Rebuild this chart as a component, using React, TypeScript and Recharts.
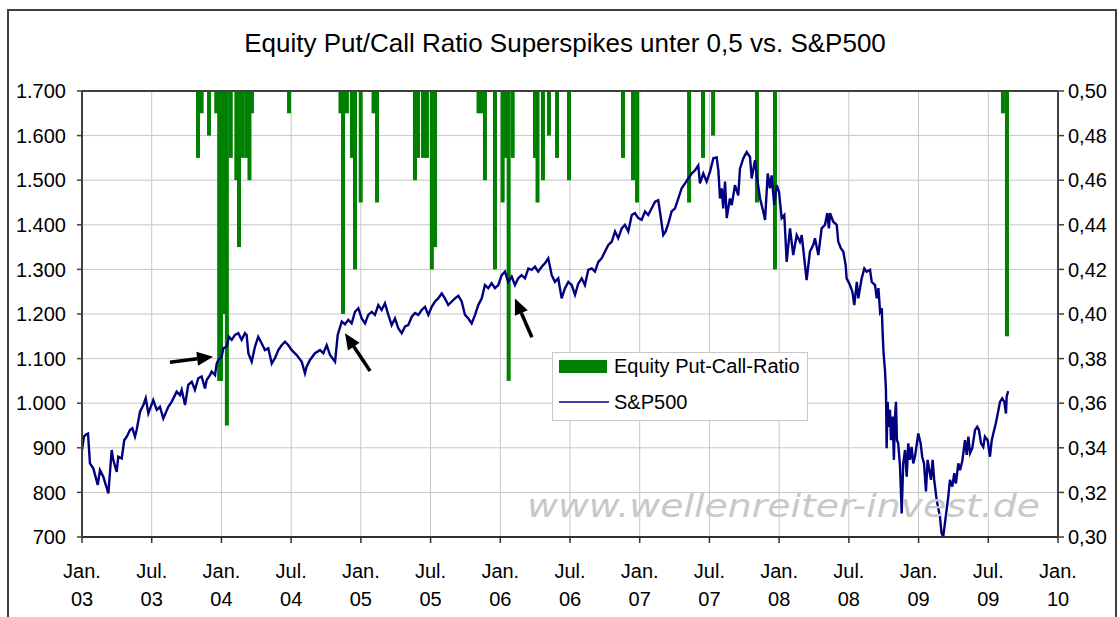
import React from "react";
import {
  Bar,
  CartesianGrid,
  ComposedChart,
  Legend,
  Line,
  ReferenceLine,
  XAxis,
  YAxis,
} from "recharts";

const title = "Equity Put/Call Ratio Superspikes unter 0,5 vs. S&P500";
const watermark = "www.wellenreiter-invest.de";
const font = "'Liberation Sans', Arial, sans-serif";

// S&P500: [Jahr (dezimal), Kurs]
const spx: [number, number][] = [
  [2003.0, 895], [2003.014, 925], [2003.029, 930], [2003.043, 932], [2003.057, 865],
  [2003.081, 854], [2003.113, 817], [2003.129, 850], [2003.153, 835], [2003.189, 798],
  [2003.213, 895], [2003.224, 873], [2003.249, 846], [2003.26, 880], [2003.285, 876],
  [2003.303, 917], [2003.321, 925], [2003.344, 940], [2003.361, 944], [2003.38, 925],
  [2003.392, 940], [2003.416, 981], [2003.44, 996], [2003.457, 1011], [2003.476, 977],
  [2003.511, 1007], [2003.536, 985], [2003.559, 992], [2003.583, 966], [2003.619, 992],
  [2003.643, 1003], [2003.679, 1026], [2003.703, 1018], [2003.715, 1030], [2003.739, 996],
  [2003.762, 1041], [2003.787, 1048], [2003.81, 1030], [2003.834, 1056], [2003.858, 1060],
  [2003.882, 1033], [2003.894, 1052], [2003.918, 1063], [2003.93, 1071], [2003.954, 1063],
  [2003.966, 1089], [2003.978, 1097], [2004.002, 1104], [2004.013, 1123], [2004.038, 1127],
  [2004.054, 1149], [2004.074, 1142], [2004.097, 1153], [2004.121, 1157], [2004.145, 1142],
  [2004.169, 1157], [2004.181, 1153], [2004.193, 1112], [2004.217, 1093], [2004.241, 1127],
  [2004.264, 1149], [2004.289, 1134], [2004.312, 1119], [2004.336, 1123], [2004.361, 1089],
  [2004.384, 1101], [2004.408, 1119], [2004.432, 1130], [2004.456, 1138], [2004.48, 1130],
  [2004.504, 1119], [2004.54, 1108], [2004.576, 1093], [2004.599, 1067], [2004.611, 1082],
  [2004.635, 1097], [2004.671, 1112], [2004.707, 1119], [2004.731, 1112], [2004.755, 1130],
  [2004.779, 1108], [2004.815, 1093], [2004.834, 1153], [2004.863, 1183], [2004.886, 1177],
  [2004.91, 1187], [2004.934, 1179], [2004.958, 1205], [2004.982, 1213], [2005.006, 1190],
  [2005.03, 1179], [2005.053, 1198], [2005.078, 1205], [2005.101, 1198], [2005.125, 1220],
  [2005.149, 1209], [2005.173, 1224], [2005.197, 1198], [2005.221, 1175], [2005.245, 1190],
  [2005.268, 1168], [2005.293, 1157], [2005.317, 1172], [2005.34, 1175], [2005.365, 1194],
  [2005.388, 1202], [2005.412, 1198], [2005.436, 1209], [2005.46, 1216], [2005.484, 1198],
  [2005.508, 1216], [2005.532, 1228], [2005.555, 1235], [2005.58, 1246], [2005.603, 1235],
  [2005.627, 1220], [2005.652, 1228], [2005.675, 1235], [2005.699, 1241], [2005.723, 1228],
  [2005.747, 1198], [2005.771, 1190], [2005.795, 1179], [2005.819, 1198], [2005.842, 1220],
  [2005.867, 1235], [2005.89, 1265], [2005.914, 1258], [2005.938, 1269], [2005.962, 1258],
  [2005.986, 1265], [2006.01, 1287], [2006.034, 1295], [2006.057, 1272], [2006.082, 1284],
  [2006.105, 1265], [2006.129, 1280], [2006.153, 1287], [2006.177, 1280], [2006.201, 1302],
  [2006.225, 1299], [2006.249, 1306], [2006.272, 1295], [2006.297, 1306], [2006.321, 1314],
  [2006.344, 1325], [2006.369, 1287], [2006.392, 1272], [2006.416, 1280], [2006.44, 1235],
  [2006.464, 1258], [2006.488, 1272], [2006.512, 1265], [2006.536, 1243], [2006.559, 1268],
  [2006.584, 1280], [2006.607, 1265], [2006.631, 1299], [2006.656, 1302], [2006.679, 1295],
  [2006.703, 1317], [2006.727, 1325], [2006.751, 1340], [2006.775, 1355], [2006.799, 1362],
  [2006.823, 1385], [2006.846, 1370], [2006.871, 1392], [2006.894, 1400], [2006.918, 1385],
  [2006.943, 1422], [2006.966, 1426], [2006.99, 1415], [2007.014, 1411], [2007.038, 1430],
  [2007.061, 1422], [2007.086, 1437], [2007.11, 1452], [2007.133, 1455], [2007.145, 1430],
  [2007.169, 1377], [2007.186, 1385], [2007.205, 1403], [2007.229, 1430], [2007.253, 1437],
  [2007.277, 1459], [2007.301, 1482], [2007.325, 1493], [2007.348, 1504], [2007.373, 1515],
  [2007.396, 1522], [2007.42, 1533], [2007.432, 1493], [2007.456, 1515], [2007.48, 1497],
  [2007.504, 1519], [2007.528, 1549], [2007.552, 1551], [2007.564, 1522], [2007.576, 1459],
  [2007.588, 1482], [2007.599, 1437], [2007.612, 1497], [2007.624, 1415], [2007.647, 1459],
  [2007.66, 1444], [2007.683, 1489], [2007.707, 1466], [2007.719, 1526], [2007.743, 1549],
  [2007.767, 1563], [2007.791, 1552], [2007.803, 1504], [2007.827, 1545], [2007.839, 1511],
  [2007.863, 1459], [2007.886, 1430], [2007.899, 1411], [2007.918, 1515], [2007.934, 1482],
  [2007.946, 1511], [2007.965, 1444], [2007.982, 1489], [2007.999, 1474], [2008.018, 1415],
  [2008.037, 1422], [2008.054, 1317], [2008.078, 1392], [2008.101, 1332], [2008.126, 1377],
  [2008.149, 1362], [2008.162, 1377], [2008.18, 1325], [2008.197, 1276], [2008.221, 1340],
  [2008.245, 1355], [2008.257, 1370], [2008.281, 1332], [2008.305, 1392], [2008.329, 1400],
  [2008.345, 1426], [2008.357, 1392], [2008.365, 1426], [2008.388, 1407], [2008.413, 1400],
  [2008.424, 1362], [2008.443, 1347], [2008.46, 1340], [2008.477, 1310], [2008.484, 1280],
  [2008.508, 1265], [2008.525, 1250], [2008.539, 1220], [2008.557, 1272], [2008.568, 1235],
  [2008.592, 1280], [2008.611, 1302], [2008.628, 1295], [2008.652, 1299], [2008.664, 1272],
  [2008.688, 1265], [2008.7, 1235], [2008.712, 1258], [2008.724, 1205], [2008.736, 1213],
  [2008.742, 1160], [2008.749, 1112], [2008.759, 1074], [2008.766, 1030], [2008.771, 899],
  [2008.778, 1003], [2008.788, 947], [2008.795, 985], [2008.802, 917], [2008.814, 970],
  [2008.823, 873], [2008.831, 970], [2008.838, 1003], [2008.845, 917], [2008.854, 910],
  [2008.867, 858], [2008.879, 753], [2008.89, 865], [2008.903, 895], [2008.915, 835],
  [2008.926, 910], [2008.938, 873], [2008.95, 902], [2008.962, 865], [2008.974, 880],
  [2008.998, 932], [2009.015, 910], [2009.026, 880], [2009.039, 865], [2009.053, 802],
  [2009.065, 873], [2009.077, 850], [2009.089, 828], [2009.101, 873], [2009.112, 828],
  [2009.13, 783], [2009.153, 746], [2009.165, 708], [2009.177, 701], [2009.189, 731],
  [2009.201, 761], [2009.213, 790], [2009.225, 828], [2009.242, 813], [2009.256, 843],
  [2009.268, 820], [2009.285, 865], [2009.297, 850], [2009.313, 869], [2009.333, 917],
  [2009.345, 884], [2009.357, 925], [2009.369, 888], [2009.385, 899], [2009.405, 940],
  [2009.421, 947], [2009.433, 940], [2009.448, 910], [2009.464, 902], [2009.476, 925],
  [2009.496, 917], [2009.512, 880], [2009.525, 917], [2009.536, 932], [2009.554, 955],
  [2009.568, 977], [2009.584, 1003], [2009.6, 1011], [2009.615, 1003], [2009.627, 977],
  [2009.632, 1015], [2009.643, 1027],
];

// Equity Put-Call-Ratio, nur Werte unter 0,5: [Jahr (dezimal), Ratio]
const putCall: [number, number][] = [
  [2003.832, 0.47], [2003.858, 0.49], [2003.911, 0.48], [2003.963, 0.49], [2003.984, 0.37],
  [2003.997, 0.37], [2004.016, 0.4], [2004.039, 0.35], [2004.067, 0.47], [2004.107, 0.46],
  [2004.126, 0.43], [2004.153, 0.47], [2004.18, 0.47], [2004.201, 0.46], [2004.219, 0.49],
  [2004.485, 0.49], [2004.854, 0.49], [2004.872, 0.4], [2004.9, 0.49], [2004.936, 0.47],
  [2004.958, 0.42], [2004.999, 0.45], [2005.091, 0.49], [2005.116, 0.45], [2005.388, 0.46],
  [2005.41, 0.47], [2005.446, 0.47], [2005.474, 0.47], [2005.509, 0.42], [2005.532, 0.43],
  [2005.844, 0.49], [2005.866, 0.49], [2005.89, 0.46], [2005.962, 0.42], [2006.017, 0.45],
  [2006.041, 0.47], [2006.06, 0.37], [2006.089, 0.47], [2006.249, 0.47], [2006.267, 0.45],
  [2006.306, 0.46], [2006.349, 0.48], [2006.407, 0.47], [2006.493, 0.46], [2006.88, 0.47],
  [2006.952, 0.46], [2006.981, 0.45], [2007.354, 0.45], [2007.454, 0.47], [2007.526, 0.48],
  [2007.841, 0.45], [2007.97, 0.42], [2009.605, 0.49], [2009.634, 0.39],
];

const xTicks = [
  2003, 2003.5, 2004, 2004.5, 2005, 2005.5, 2006, 2006.5, 2007, 2007.5, 2008, 2008.5,
  2009, 2009.5, 2010,
];
const halfYearNames = ["Jan.", "Jul."];
const leftTicks = [700, 800, 900, 1000, 1100, 1200, 1300, 1400, 1500, 1600, 1700];
const rightTicks = [0.3, 0.32, 0.34, 0.36, 0.38, 0.4, 0.42, 0.44, 0.46, 0.48, 0.5];

// Pfeile im Chart: [Jahr von, Kurs von, Jahr bis, Kurs bis]
const arrows: [number, number, number, number][] = [
  [2003.631, 1092, 2003.94, 1104],
  [2005.066, 1072, 2004.886, 1157],
  [2006.227, 1148, 2006.105, 1235],
];

const data = [
  ...spx.map(([t, v]) => ({ t, spx: v as number | undefined, pcr: undefined as number | undefined })),
  ...putCall.map(([t, v]) => ({ t, spx: undefined, pcr: v })),
].sort((a, b) => a.t - b.t);

const formatLeft = (v: number) =>
  v >= 1000 ? `${Math.floor(v / 1000)}.${String(v % 1000).padStart(3, "0")}` : String(v);
const formatRight = (v: number) => v.toFixed(2).replace(".", ",");

function XTick({ x, y, payload }: any) {
  const v = payload.value as number;
  const half = Math.round((v - Math.floor(v)) * 2);
  const yy = String(Math.floor(v) % 100).padStart(2, "0");
  return (
    <text x={x} y={y} textAnchor="middle" fontSize={20} fontFamily={font} fill="#000">
      <tspan x={x} y={y + 33}>{halfYearNames[half]}</tspan>
      <tspan x={x} y={y + 61}>{yy}</tspan>
    </text>
  );
}

// Balken mit fester Breite, mittig auf dem Datum
function SpikeBar(props: any) {
  const { x, y, width, height, fill } = props;
  if (x == null || y == null || !height) return null;
  const cx = x + (width || 0) / 2;
  const top = height < 0 ? y + height : y;
  return <rect x={cx - 2} y={top} width={4} height={Math.abs(height)} fill={fill} />;
}

function ArrowShape(props: any) {
  const { x1, y1, x2, y2 } = props;
  const dx = x2 - x1;
  const dy = y2 - y1;
  const len = Math.hypot(dx, dy) || 1;
  const ux = dx / len;
  const uy = dy / len;
  const head = 16;
  const hw = 7;
  const bx = x2 - ux * head;
  const by = y2 - uy * head;
  return (
    <g>
      <line x1={x1} y1={y1} x2={bx} y2={by} stroke="#000" strokeWidth={3.5} />
      <polygon
        points={`${x2},${y2} ${bx - uy * hw},${by + ux * hw} ${bx + uy * hw},${by - ux * hw}`}
        fill="#000"
      />
    </g>
  );
}

function LegendBox({ payload }: any) {
  const items = payload || [];
  return (
    <div
      style={{
        position: "relative",
        width: 256,
        height: 69,
        boxSizing: "border-box",
        border: "1px solid #c8c8c8",
        background: "#fff",
        fontFamily: font,
        fontSize: 20,
        color: "#000",
      }}
    >
      {items.map((entry: any, i: number) => (
        <div key={entry.value} style={{ position: "absolute", left: 6, top: 1 + i * 36, height: 24, display: "flex", alignItems: "center" }}>
          {entry.type === "line" ? (
            <svg width={50} height={14} style={{ display: "block" }}>
              <line x1={0} y1={7} x2={50} y2={7} stroke={entry.color} strokeWidth={1.6} />
            </svg>
          ) : (
            <div style={{ width: 48, height: 13, background: entry.color, marginRight: 2 }} />
          )}
          <span style={{ marginLeft: 5, whiteSpace: "nowrap", lineHeight: "24px" }}>{entry.value}</span>
        </div>
      ))}
    </div>
  );
}

export default function App() {
  return (
    <div
      style={{
        position: "fixed",
        left: 0,
        top: 0,
        width: 1120,
        height: 617,
        overflow: "hidden",
        background: "#fff",
      }}
    >
      <div
        style={{
          position: "absolute",
          left: 7,
          top: 9,
          width: 1106,
          height: 700,
          border: "2px solid #404040",
        }}
      />
      <div style={{ position: "absolute", left: 0, top: 0 }}>
        <ComposedChart
          width={1120}
          height={617}
          data={data}
          margin={{ top: 91, right: 7, bottom: 10, left: 12 }}
        >
          <CartesianGrid yAxisId="left" stroke="#c6c6c6" strokeWidth={1} />
          <XAxis
            dataKey="t"
            type="number"
            domain={[2003, 2010]}
            ticks={xTicks}
            interval={0}
            height={70}
            tickSize={6}
            tickMargin={2}
            axisLine={{ stroke: "#303030", strokeWidth: 2 }}
            tickLine={{ stroke: "#303030", strokeWidth: 1.5 }}
            tick={<XTick />}
            allowDataOverflow
          />
          <YAxis
            yAxisId="left"
            domain={[700, 1700]}
            ticks={leftTicks}
            interval={0}
            width={70}
            tickSize={5}
            tickMargin={11}
            tickFormatter={formatLeft}
            axisLine={{ stroke: "#404040", strokeWidth: 2 }}
            tickLine={{ stroke: "#404040", strokeWidth: 1.5 }}
            tick={{ fill: "#000", fontSize: 20, fontFamily: font }}
            allowDataOverflow
          />
          <YAxis
            yAxisId="right"
            orientation="right"
            domain={[0.3, 0.5]}
            ticks={rightTicks}
            interval={0}
            width={55}
            tickSize={6}
            tickMargin={4}
            tickFormatter={formatRight}
            axisLine={{ stroke: "#404040", strokeWidth: 2 }}
            tickLine={{ stroke: "#404040", strokeWidth: 1.5 }}
            tick={{ fill: "#000", fontSize: 20, fontFamily: font }}
            allowDataOverflow
          />
          <ReferenceLine yAxisId="left" y={1700} stroke="#404040" strokeWidth={2} />
          <Bar
            yAxisId="right"
            name="Equity Put-Call-Ratio"
            dataKey={(d: any) => (d.pcr == null ? undefined : [d.pcr, 0.5])}
            fill="#008000"
            shape={SpikeBar}
            legendType="rect"
            isAnimationActive={false}
          />
          <Line
            yAxisId="left"
            name="S&P500"
            dataKey="spx"
            type="linear"
            stroke="#000080"
            strokeWidth={2.4}
            dot={false}
            connectNulls
            legendType="line"
            isAnimationActive={false}
          />
          {arrows.map(([t1, v1, t2, v2], i) => (
            <ReferenceLine
              key={i}
              yAxisId="left"
              segment={[
                { x: t1, y: v1 },
                { x: t2, y: v2 },
              ]}
              ifOverflow="visible"
              shape={ArrowShape}
            />
          ))}
          <Legend
            layout="horizontal"
            verticalAlign="middle"
            align="center"
            wrapperStyle={{ left: 552, top: 352, width: 256, height: 69 }}
            content={(props: any) => <LegendBox payload={props.payload} />}
          />
        </ComposedChart>
      </div>
      <svg
        width={1120}
        height={617}
        style={{ position: "absolute", left: 0, top: 0, pointerEvents: "none" }}
      >
        <text x={565} y={52} textAnchor="middle" fontSize={26} fontFamily={font} fill="#000">
          {title}
        </text>
        <text
          x={527}
          y={517}
          fontSize={32}
          fontStyle="italic"
          fontFamily="'DejaVu Sans', sans-serif"
          fill="#c8c8c8"
          textLength={513}
          lengthAdjust="spacingAndGlyphs"
        >
          {watermark}
        </text>
      </svg>
    </div>
  );
}
